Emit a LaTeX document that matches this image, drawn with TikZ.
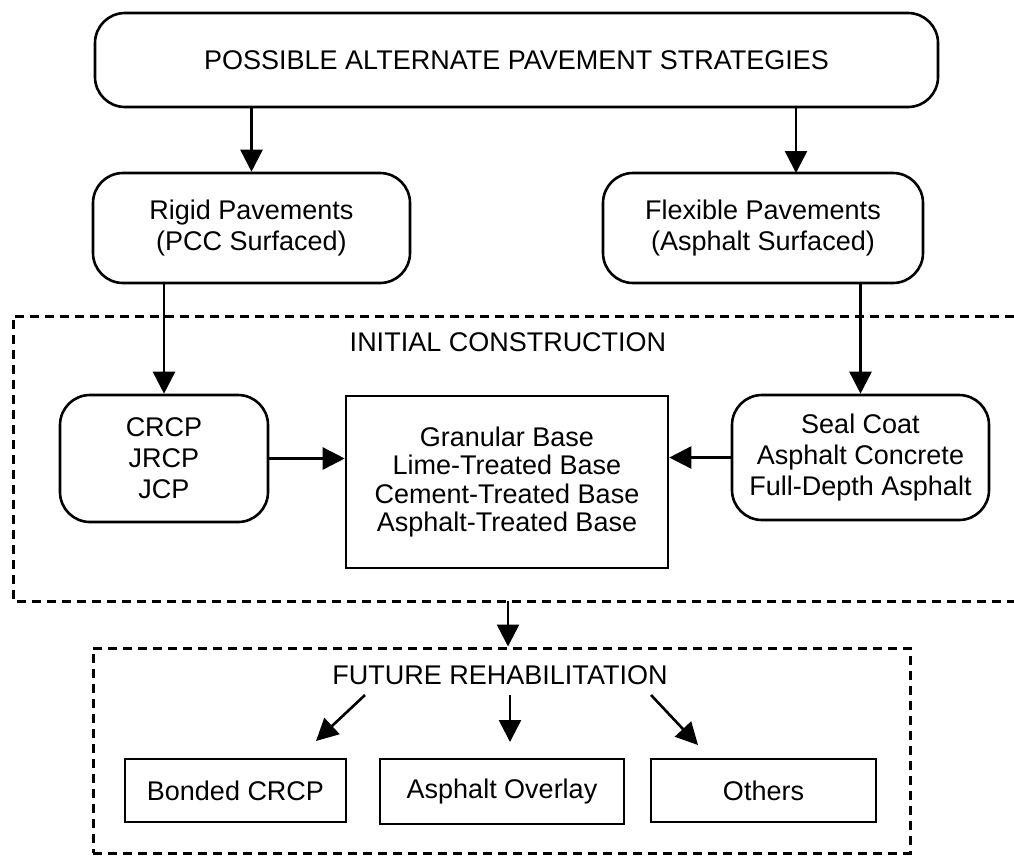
\documentclass[tikz,border=0pt]{standalone}
\usepackage{fontspec}
\setmainfont{Liberation Sans}
\usetikzlibrary{arrows.meta}
\begin{document}
\begin{tikzpicture}[x=1pt,y=-1pt,
  every node/.style={font=\fontsize{27}{31}\selectfont, align=center, inner sep=0pt},
  rbox/.style={draw, line width=2.6pt, rounded corners=30pt},
  sbox/.style={draw, line width=2.6pt},
  arr/.style={line width=2.6pt, -{Triangle[length=22pt,width=22pt]}},
  dbox/.style={line width=3pt, dash pattern=on 9pt off 6pt}]
\useasboundingbox (0,0) rectangle (1014,855);

% top level
\node[rbox, minimum width=843pt, minimum height=94pt] (top) at (516.5,60) {POSSIBLE ALTERNATE PAVEMENT STRATEGIES};
\node[rbox, minimum width=317pt, minimum height=110pt] (rigid) at (251.5,228) {Rigid Pavements\\(PCC Surfaced)};
\node[rbox, minimum width=320pt, minimum height=110pt] (flex) at (763,228) {Flexible Pavements\\(Asphalt Surfaced)};
\coordinate (fa) at (796,173);
\draw[arr] (top.south -| rigid.north) -- (rigid.north);
\draw[arr] (top.south -| fa) -- (fa);

% initial construction
\draw[dbox] (1014,316) -- (13,316) -- (13,601) -- (1014,601);
\node (initlbl) at (508,342) {INITIAL CONSTRUCTION};
\node[rbox, minimum width=208pt, minimum height=127pt] (crcp) at (164,458.5) {CRCP\\JRCP\\JCP};
\node[rbox, minimum width=257pt, minimum height=125pt] (seal) at (860.5,457.5) {Seal Coat\\Asphalt Concrete\\Full-Depth Asphalt};
\node[sbox, minimum width=322pt, minimum height=172pt, font=\fontsize{27}{28.5}\selectfont] (gran) at (507,482) {Granular Base\\Lime-Treated Base\\Cement-Treated Base\\Asphalt-Treated Base};
\draw[arr] (rigid.south -| crcp.north) -- (crcp.north);
\draw[arr] (flex.south -| seal.north) -- (seal.north);
\draw[arr] (crcp.east) -- (crcp.east -| gran.west);
\draw[arr] (seal.west) -- (seal.west -| gran.east);

% future rehabilitation
\node[dbox, draw, minimum width=817pt, minimum height=205pt] (fut) at (501.5,750.5) {};
\coordinate (ib) at (508,601);
\draw[arr] (ib) -- (ib |- fut.north);
\node (futlbl) at (500,675) {FUTURE REHABILITATION};
\node[sbox, minimum width=221pt, minimum height=63pt] (bonded) at (235.5,790.5) {Bonded CRCP};
\node[sbox, minimum width=244pt, minimum height=65pt] (overlay) at (502,791.5) {Asphalt Overlay};
\node[sbox, minimum width=225pt, minimum height=63pt] (others) at (763.5,790.5) {Others};
\coordinate (s1) at (365,695); \coordinate (t1) at (316,741);
\coordinate (s2) at (510,695); \coordinate (t2) at (510,742);
\coordinate (s3) at (651,695); \coordinate (t3) at (698,745);
\draw[arr] (s1) -- (t1);
\draw[arr] (s2) -- (t2);
\draw[arr] (s3) -- (t3);
\end{tikzpicture}
\end{document}
